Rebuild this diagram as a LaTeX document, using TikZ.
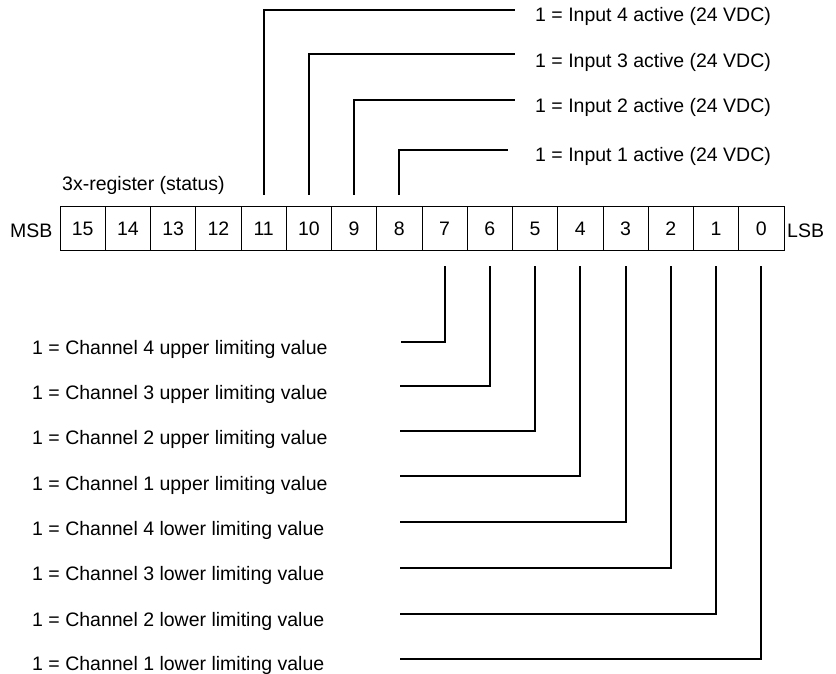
\documentclass[tikz,border=0pt]{standalone}
\usepackage{fontspec}
\setmainfont{Liberation Sans}
\usetikzlibrary{calc}
\begin{document}
\begin{tikzpicture}[x=1pt,y=-1pt,
  every node/.style={font=\fontsize{19.5}{23}\selectfont},
  cell/.style={draw,line width=1pt,minimum width=45.25pt,minimum height=44.7pt,inner sep=0pt,text height=13.9pt,text depth=0pt},
  lbl/.style={anchor=base west,inner sep=0pt},
  conn/.style={line width=2pt,line cap=butt,line join=miter}]
\useasboundingbox (0,0) rectangle (836,674);
% register cells
\foreach \b in {0,...,15}{
  \node[cell] (c\b) at ({60+(15-\b+0.5)*45.25},228.5) {\b};
}
\node[lbl] (msb) at (10,237) {MSB};
\node[lbl] (lsb) at (787,237) {LSB};
\node[lbl] (title) at (62,191) {3x-register (status)};
% upper labels
\node[lbl] (in4) at (535,22) {1 = Input 4 active (24 VDC)};
\node[lbl] (in3) at (535,68) {1 = Input 3 active (24 VDC)};
\node[lbl] (in2) at (535,113) {1 = Input 2 active (24 VDC)};
\node[lbl] (in1) at (535,162) {1 = Input 1 active (24 VDC)};
% upper connectors
\coordinate (e11) at (515,10);
\coordinate (e10) at (515,54.5);
\coordinate (e9) at (515,100);
\coordinate (e8) at (508,150.5);
\foreach \b in {8,...,11}{
  \coordinate (t\b) at ($(c\b.north)+(0,-11)$);
  \draw[conn] (t\b) |- (e\b);
}
% lower labels
\node[lbl] (ch4u) at (32,354) {1 = Channel 4 upper limiting value};
\node[lbl] (ch3u) at (32,399) {1 = Channel 3 upper limiting value};
\node[lbl] (ch2u) at (32,444.5) {1 = Channel 2 upper limiting value};
\node[lbl] (ch1u) at (32,490) {1 = Channel 1 upper limiting value};
\node[lbl] (ch4l) at (32,535) {1 = Channel 4 lower limiting value};
\node[lbl] (ch3l) at (32,580.5) {1 = Channel 3 lower limiting value};
\node[lbl] (ch2l) at (32,626) {1 = Channel 2 lower limiting value};
\node[lbl] (ch1l) at (32,670.5) {1 = Channel 1 lower limiting value};
% lower connectors
\coordinate (f7) at (401,342);
\coordinate (f6) at (399.5,386);
\coordinate (f5) at (399.5,431);
\coordinate (f4) at (399.5,475.5);
\coordinate (f3) at (399.5,521.5);
\coordinate (f2) at (399.5,568);
\coordinate (f1) at (399.5,613.5);
\coordinate (f0) at (399.5,658.5);
\foreach \b in {0,...,7}{
  \coordinate (s\b) at ($(c\b.south)+(0,15)$);
  \draw[conn] (s\b) |- (f\b);
}
\end{tikzpicture}
\end{document}
